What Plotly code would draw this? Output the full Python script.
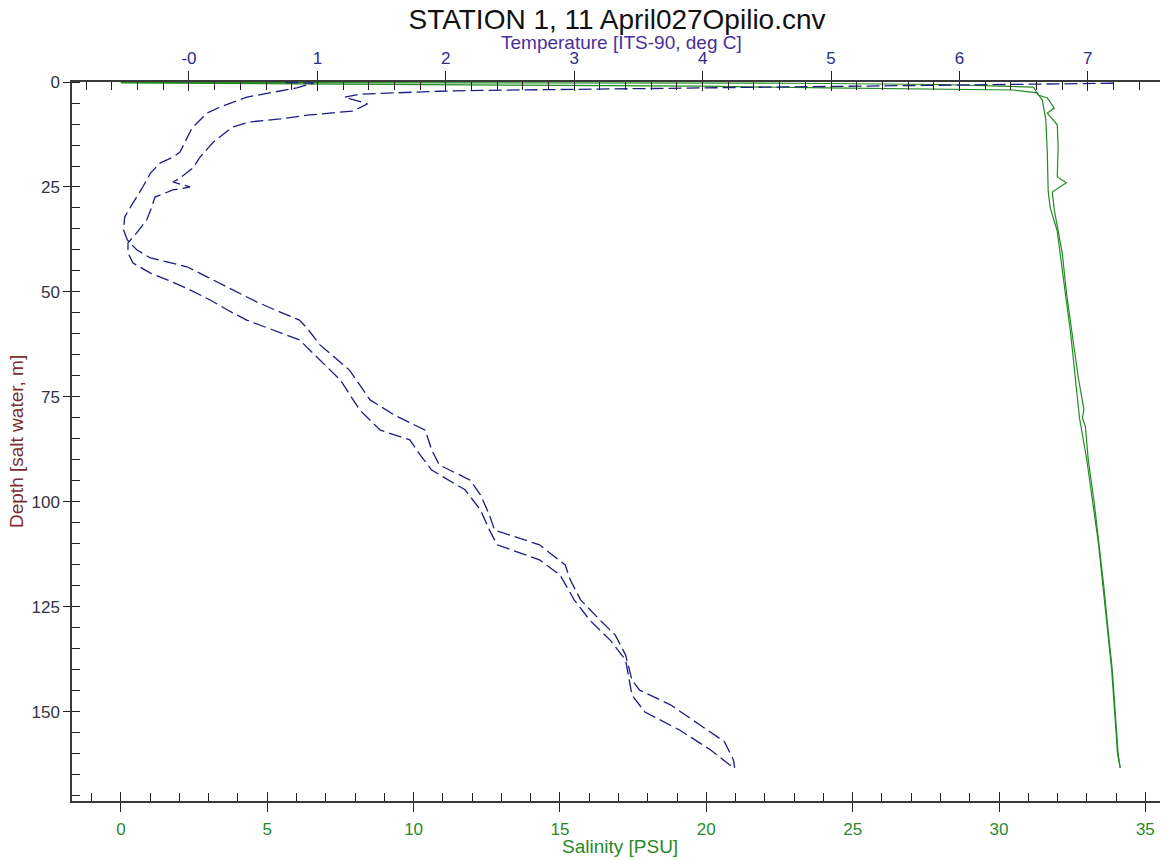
import plotly.graph_objects as go

# ---- data ----
temp_a_depth = [0.15, 0.24, 1.4, 2.4, 3.6, 6.0, 7.4, 11.0, 13.3, 16.7, 17.9, 19.3, 21.7, 25.0, 28.8, 32.1, 35.2, 37.6, 38.3, 40.0, 41.9, 42.9, 44.0, 46.4, 49.5, 52.4, 54.8, 56.7, 58.6, 62.6, 68.6, 75.7, 79.3, 82.9, 87.6, 91.2, 94.8, 98.3, 103.1, 106.7, 110.2, 115.0, 118.6, 123.3, 128.1, 131.7, 136.4, 142.4, 144.8, 148.3, 153.1, 157.1, 161.4, 163.3]
temp_a = [0.75, 0.97, 0.84, 0.65, 0.45, 0.24, 0.14, 0.023, -0.016, -0.07, -0.125, -0.226, -0.30, -0.36, -0.436, -0.50, -0.51, -0.48, -0.46, -0.405, -0.30, -0.17, -0.016, 0.14, 0.34, 0.53, 0.71, 0.86, 0.92, 1.02, 1.25, 1.41, 1.60, 1.84, 1.89, 1.95, 2.19, 2.27, 2.34, 2.38, 2.73, 2.93, 2.97, 3.05, 3.2, 3.32, 3.40, 3.45, 3.51, 3.75, 3.98, 4.17, 4.24, 4.25]

temp_b_depth = [0.3, 0.4, 0.5, 1.0, 1.3, 1.7, 2.0, 2.2, 2.9, 3.6, 5.2, 6.9, 7.9, 8.8, 9.5, 10.7, 12.6, 14.3, 17.9, 20.5, 22.9, 23.8, 25.0, 25.7, 27.4, 29.8, 32.9, 34.5, 36.4, 38.3, 40.7, 43.1, 45.5, 47.1, 49.5, 51.9, 54.3, 56.7, 58.6, 61.4, 71.0, 78.1, 82.9, 85.2, 88.8, 92.4, 97.1, 101.9, 106.7, 110.2, 113.8, 117.4, 123.3, 128.1, 132.9, 137.6, 146.0, 150.0, 154.3, 159.0, 163.3]
temp_b = [7.20, 6.90, 6.47, 5.23, 3.98, 3.15, 2.27, 1.95, 1.33, 1.21, 1.39, 1.28, 0.92, 0.71, 0.475, 0.34, 0.265, 0.19, 0.086, 0.03, -0.07, -0.125, 0.008, -0.125, -0.265, -0.29, -0.33, -0.37, -0.42, -0.475, -0.475, -0.436, -0.30, -0.17, 0.008, 0.164, 0.30, 0.45, 0.61, 0.86, 1.18, 1.33, 1.49, 1.72, 1.80, 1.89, 2.15, 2.27, 2.34, 2.40, 2.73, 2.89, 3.0, 3.12, 3.28, 3.40, 3.45, 3.55, 3.82, 4.06, 4.24]

sal_p_depth = [0.2, 0.7, 1.0, 1.4, 1.7, 1.9, 2.6, 4.3, 9.0, 17.0, 26.0, 30.0, 35.5, 40.5, 50, 60, 70, 80, 90, 100, 110, 120, 130, 140, 150, 160, 163.3]
sal_p = [0.0, 15.6, 19.9, 24.1, 28.7, 30.5, 31.3, 31.48, 31.6, 31.65, 31.68, 31.75, 31.99, 32.09, 32.26, 32.45, 32.6, 32.75, 33.0, 33.2, 33.4, 33.55, 33.7, 33.85, 33.95, 34.05, 34.14]

sal_q_depth = [0.1, 0.3, 0.6, 1.2, 3.1, 3.8, 6.2, 7.4, 10.2, 15.5, 22.6, 24.0, 26.2, 30.5, 40.7, 50, 60, 70, 78, 80, 82, 90, 100, 110, 120, 130, 140, 150, 160, 163.3]
sal_q = [0.0, 23.0, 28.0, 31.17, 31.34, 31.65, 31.89, 31.65, 31.99, 32.02, 31.99, 32.3, 31.82, 31.89, 32.16, 32.3, 32.5, 32.7, 32.9, 32.85, 32.95, 33.05, 33.25, 33.42, 33.58, 33.72, 33.87, 33.97, 34.07, 34.14]

temp_ticks = [0, 1, 2, 3, 4, 5, 6, 7]
temp_tick_text = ["-0", "1", "2", "3", "4", "5", "6", "7"]
sal_ticks = [0, 5, 10, 15, 20, 25, 30, 35]
depth_ticks = [0, 25, 50, 75, 100, 125, 150]

title_text = "STATION 1, 11 April027Opilio.cnv"
temp_title = "Temperature [ITS-90, deg C]"
sal_title = "Salinity [PSU]"
depth_title = "Depth [salt water, m]"

# ---- style ----
FONT = "Liberation Sans, Arial, sans-serif"
NAVY = "#1c1c84"
GREEN = "#228b22"
TEMP_LBL = "#2b2b8f"
TEMP_TTL = "#4a2f9c"
SAL_LBL = "#2a8a2a"
AX = "#3a3a3a"
TICK_FS = 17
TTL_FS = 18

W, H = 1164, 860
L, R, T, B = 72, 4, 82, 59
PW, PH = W - L - R, H - T - B


def px(xp):
    return (xp - L) / PW


def py(yp):
    return (H - B - yp) / PH


sal_range = [-1.67, 35.5]
temp_range = [-0.911, 7.562]
depth_range = [171.2, 0]

fig = go.Figure()
for d, s in ((sal_p_depth, sal_p), (sal_q_depth, sal_q)):
    fig.add_trace(go.Scatter(x=s, y=d, mode="lines", xaxis="x", yaxis="y",
                             line=dict(color=GREEN, width=1.2), showlegend=False, hoverinfo="skip"))
for d, t in ((temp_a_depth, temp_a), (temp_b_depth, temp_b)):
    fig.add_trace(go.Scatter(x=t, y=d, mode="lines", xaxis="x2", yaxis="y",
                             line=dict(color=NAVY, width=1.3, dash="13px,5px"),
                             showlegend=False, hoverinfo="skip"))
# invisible traces so the overlay tick axes get drawn
fig.add_trace(go.Scatter(x=[None], y=[None], xaxis="x3", yaxis="y", showlegend=False, hoverinfo="skip"))
fig.add_trace(go.Scatter(x=[None], y=[None], xaxis="x4", yaxis="y", showlegend=False, hoverinfo="skip"))
fig.add_trace(go.Scatter(x=[None], y=[None], xaxis="x", yaxis="y2", showlegend=False, hoverinfo="skip"))

fig.update_layout(
    width=W, height=H,
    margin=dict(l=L, r=R, t=T, b=B),
    paper_bgcolor="white", plot_bgcolor="white",
    font=dict(family=FONT, size=TICK_FS, color="#333333"),
    title=dict(text=title_text, x=617 / W, xanchor="center", y=1 - 19 / H, yanchor="middle",
               xref="container", yref="container",
               font=dict(family=FONT, size=28, color="#111111")),
    xaxis=dict(range=sal_range, tickvals=sal_ticks, ticks="outside", ticklen=9, tickcolor="#222",
               showline=True, linecolor=AX, linewidth=1.5, showgrid=False, zeroline=False,
               tickfont=dict(color=SAL_LBL, size=TICK_FS), automargin=False, ticklabelstandoff=3,
               minor=dict(dtick=1, tick0=0, ticks="inside", ticklen=8, tickcolor="#222", showgrid=False),
               anchor="y"),
    xaxis2=dict(range=temp_range, tickvals=temp_ticks, ticktext=temp_tick_text, overlaying="x",
                side="top", anchor="y", ticks="outside", ticklen=9, tickcolor="#222",
                showline=True, linecolor=AX, linewidth=1.5, showgrid=False, zeroline=False,
                tickfont=dict(color=TEMP_LBL, size=TICK_FS), automargin=False,
                minor=dict(dtick=0.2, tick0=0, ticks="inside", ticklen=8, tickcolor="#222", showgrid=False)),
    xaxis3=dict(range=sal_range, tickvals=sal_ticks, overlaying="x", side="bottom", anchor="y",
                ticks="inside", ticklen=9, tickcolor="#222", showticklabels=False, automargin=False,
                showline=False, showgrid=False, zeroline=False),
    xaxis4=dict(range=temp_range, tickvals=temp_ticks, overlaying="x", side="top", anchor="y",
                ticks="inside", ticklen=9, tickcolor="#222", showticklabels=False, automargin=False,
                showline=False, showgrid=False, zeroline=False),
    yaxis=dict(range=depth_range, tickvals=depth_ticks, ticks="outside", ticklen=7, tickcolor="#222",
               showline=True, linecolor=AX, linewidth=1.5, showgrid=False, zeroline=False,
               tickfont=dict(color="#333344", size=TICK_FS), automargin=False,
               minor=dict(dtick=5, tick0=0, ticks="inside", ticklen=8, tickcolor="#222", showgrid=False),
               anchor="x"),
    yaxis2=dict(range=depth_range, tickvals=depth_ticks, overlaying="y", side="left", anchor="x",
                ticks="inside", ticklen=8, tickcolor="#222", showticklabels=False, automargin=False,
                showline=False, showgrid=False, zeroline=False),
    annotations=[
        dict(text=temp_title, x=px(621), y=py(43), xref="paper", yref="paper",
             xanchor="center", yanchor="middle", showarrow=False,
             font=dict(family=FONT, size=TTL_FS + 1, color=TEMP_TTL)),
        dict(text=sal_title, x=px(620), y=py(846), xref="paper", yref="paper",
             xanchor="center", yanchor="middle", showarrow=False,
             font=dict(family=FONT, size=TTL_FS + 1, color=SAL_LBL)),
        dict(text=depth_title, x=px(16), y=py(442), xref="paper", yref="paper",
             xanchor="center", yanchor="middle", showarrow=False, textangle=-90,
             font=dict(family=FONT, size=TTL_FS + 1, color="#7a2e2e")),
    ],
)

fig.write_html("out.html", config={"displayModeBar": False},
               post_script="document.body.style.margin='0';")
